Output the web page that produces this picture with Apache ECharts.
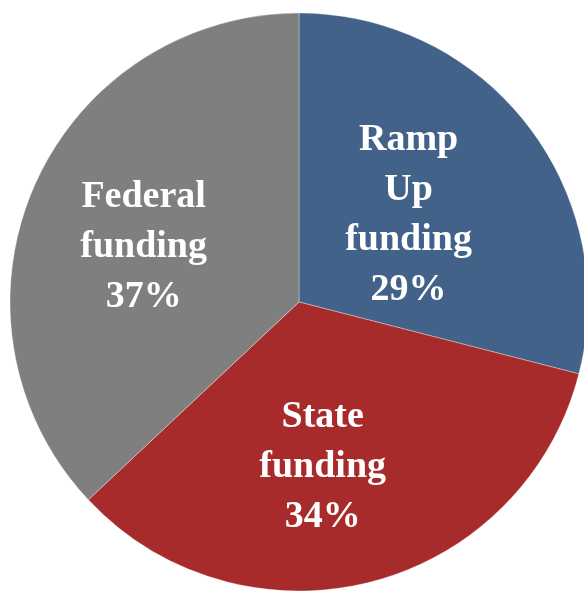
<!DOCTYPE html>
<html>
<head>
<meta charset="utf-8">
<style>
  html, body { margin: 0; padding: 0; background: #ffffff; }
  #chart { width: 584px; height: 593px; }
</style>
<script src="https://cdn.jsdelivr.net/npm/echarts@6/dist/echarts.min.js"></script>
</head>
<body>
<div id="chart"></div>
<script>
// Data
var categories = ['Ramp Up funding', 'State funding', 'Federal funding'];
var shares = [29, 34, 37];
var colors = ['#426289', '#A62B2A', '#7F7F7F'];
// label nudges (pixels) so text sits where the reference puts it
var labelOffsets = [[-7, 4], [-13, 22], [-20, 4]];

var chart = echarts.init(document.getElementById('chart'), null, { renderer: 'canvas' });

var seriesData = categories.map(function (name, i) {
  return {
    name: name,
    value: shares[i],
    itemStyle: { color: colors[i] },
    label: { offset: labelOffsets[i] }
  };
});

chart.setOption({
  animation: false,
  backgroundColor: '#ffffff',
  series: [{
    type: 'pie',
    center: [299, 302],
    radius: [0, 289],
    startAngle: 90,
    clockwise: true,
    avoidLabelOverlap: false,
    emphasis: { disabled: true },
    itemStyle: { borderColor: 'rgba(255,255,255,0.35)', borderWidth: 1 },
    label: {
      show: true,
      position: 'inside',
      color: '#ffffff',
      fontFamily: '"Liberation Serif", "DejaVu Serif", serif',
      fontWeight: 'bold',
      fontSize: 38,
      lineHeight: 50,
      align: 'center',
      formatter: function (p) {
        return p.name.split(' ').join('\n') + '\n' + p.value + '%';
      }
    },
    labelLine: { show: false },
    data: seriesData
  }]
});
</script>
</body>
</html>
